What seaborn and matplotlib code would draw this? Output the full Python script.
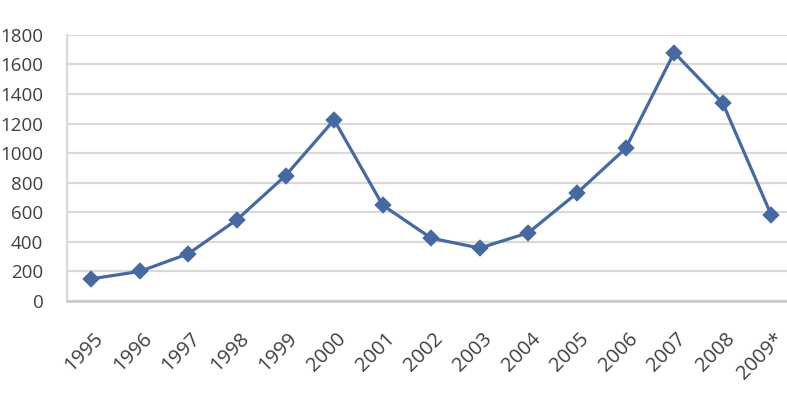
import matplotlib
matplotlib.use("Agg")
import matplotlib.pyplot as plt
import seaborn as sns
import pandas as pd
from matplotlib.transforms import ScaledTranslation

years = ["1995", "1996", "1997", "1998", "1999", "2000", "2001", "2002",
         "2003", "2004", "2005", "2006", "2007", "2008", "2009*"]
values = [150, 200, 320, 550, 848, 1225, 648, 425, 358, 462, 730, 1032, 1680, 1338, 580]
y_ticks = [0, 200, 400, 600, 800, 1000, 1200, 1400, 1600, 1800]

df = pd.DataFrame({"year": years, "value": values})

sns.set_theme(style="white")
plt.rcParams['font.family'] = ['Open Sans', 'DejaVu Sans']

fig = plt.figure(figsize=(7.87, 3.99), dpi=100)
ax = fig.add_axes([0.085, 0.2456, 0.926, 0.667])

line_color = "#4669a0"
sns.pointplot(data=df, x="year", y="value", ax=ax, color=line_color,
              markers="D", linestyles="-", markersize=7, linewidth=2.3,
              errorbar=None)

ax.set_ylim(0, 1800)
ax.set_xlim(-0.5, len(years) - 0.5)
ax.set_yticks(y_ticks)
ax.set_yticklabels([str(v) for v in y_ticks])
ax.yaxis.grid(True, color="#d9d9d9", linewidth=1.6)
ax.xaxis.grid(False)
ax.set_axisbelow(True)
ax.set_xlabel("")
ax.set_ylabel("")

for s in ["top", "right"]:
    ax.spines[s].set_visible(False)
ax.spines["left"].set_color("#d9d9d9")
ax.spines["left"].set_linewidth(1.6)
ax.spines["bottom"].set_color("#c8c8c8")
ax.spines["bottom"].set_linewidth(1.8)

ax.tick_params(axis="y", length=0, pad=17, labelsize=13.5, labelcolor="#404040")
ax.tick_params(axis="x", length=0, pad=20, labelsize=14.5, labelcolor="#404040")

ax.set_xticks(range(len(years)))
ax.set_xticklabels(years, rotation=45, ha="right", va="top", rotation_mode="anchor")
offset = ScaledTranslation(2 / 100, 0, fig.dpi_scale_trans)
for lbl in ax.get_xticklabels():
    lbl.set_transform(lbl.get_transform() + offset)

fig.savefig("out.png", dpi=100)
